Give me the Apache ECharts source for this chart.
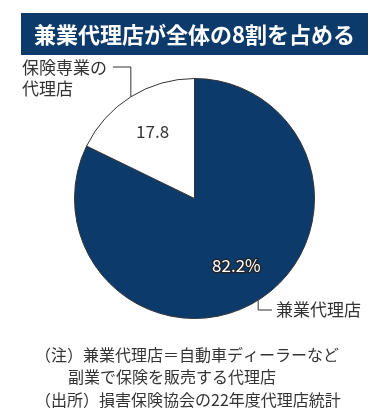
<!DOCTYPE html>
<html><head><meta charset="utf-8">
<script src="https://cdn.jsdelivr.net/npm/echarts@6/dist/echarts.min.js"></script>
<style>html,body{margin:0;padding:0;background:#fff;}#c{width:381px;height:420px;}</style>
</head><body><div id="c"></div>
<script>
const titleText = '兼業代理店が全体の8割を占める';
const categories = ['兼業代理店', '保険専業の\n代理店'];
const values = [82.2, 17.8];
const valueLabels = ['82.2%', '17.8'];
const noteLines = [
  '（注）兼業代理店＝自動車ディーラーなど',
  '副業で保険を販売する代理店',
  '（出所）損害保険協会の22年度代理店統計'
];

const FONT = '"Noto Sans CJK JP", "Noto Sans", sans-serif';
const NAVY = '#0c3a6b';
const CX = 194.5, CY = 198.5, R = 120;
const total = values.reduce((a, b) => a + b, 0);
function midPoint(i) {
  let before = 0;
  for (let k = 0; k < i; k++) before += values[k];
  const ang = (before + values[i] / 2) / total * Math.PI * 2;
  return [CX + R * Math.sin(ang), CY - R * Math.cos(ang)];
}
// label layout constants (positions only)
const nameLayout = [
  { x: 276, y: 310, align: 'left', verticalAlign: 'middle', lineY: 310, lineEndX: 272 },
  { x: 22, y: 57, align: 'left', verticalAlign: 'top', lineY: 67, lineEndX: 113 }
];

const chart = echarts.init(document.getElementById('c'), null, { renderer: 'canvas' });
chart.setOption({
  animation: false,
  graphic: [
    { type: 'rect', shape: { x: 21, y: 13, width: 347, height: 42 }, style: { fill: NAVY }, z: 0 },
    { type: 'text', x: 194.5, y: 34.5, style: { text: titleText, fill: '#fff', font: 'bold 22px ' + FONT, textAlign: 'center', textVerticalAlign: 'middle' }, z: 1 },
    { type: 'text', x: 35, y: 355, style: { text: noteLines[0], fill: '#333', font: '16px ' + FONT, textAlign: 'left', textVerticalAlign: 'middle' } },
    { type: 'text', x: 68, y: 377, style: { text: noteLines[1], fill: '#333', font: '16px ' + FONT, textAlign: 'left', textVerticalAlign: 'middle' } },
    { type: 'text', x: 35, y: 400, style: { text: noteLines[2], fill: '#333', font: '16px ' + FONT, textAlign: 'left', textVerticalAlign: 'middle' } }
  ],
  series: [
    {
      type: 'pie',
      center: [CX, CY],
      radius: [0, R],
      startAngle: 90,
      clockwise: true,
      silent: true,
      data: categories.map((c, i) => ({
        name: c, value: values[i],
        itemStyle: { color: i === 0 ? NAVY : '#fff' }
      })),
      itemStyle: { borderColor: '#333', borderWidth: 1 },
      label: {
        show: true, position: 'outside', formatter: '{b}',
        color: '#333', fontFamily: FONT, fontSize: 17, lineHeight: 21
      },
      labelLine: { show: true, length: 10, length2: 10, lineStyle: { color: '#333', width: 1 } },
      labelLayout: function (p) {
        const L = nameLayout[p.dataIndex];
        const m = midPoint(p.dataIndex);
        return {
          x: L.x, y: L.y, align: L.align, verticalAlign: L.verticalAlign,
          labelLinePoints: [m, [m[0], L.lineY], [L.lineEndX, L.lineY]]
        };
      }
    },
    {
      type: 'pie',
      center: [CX, CY],
      radius: [32, R],
      startAngle: 90,
      clockwise: true,
      silent: true,
      data: categories.map((c, i) => ({
        name: c, value: values[i],
        itemStyle: { color: 'rgba(0,0,0,0)', borderWidth: 0 },
        label: i === 0
          ? { color: '#fff', textBorderColor: '#222', textBorderWidth: 2.5 }
          : { color: '#333' }
      })),
      label: {
        show: true, position: 'inside',
        formatter: p => valueLabels[p.dataIndex],
        fontFamily: FONT, fontSize: 17
      },
      labelLine: { show: false }
    }
  ]
});
</script></body></html>
